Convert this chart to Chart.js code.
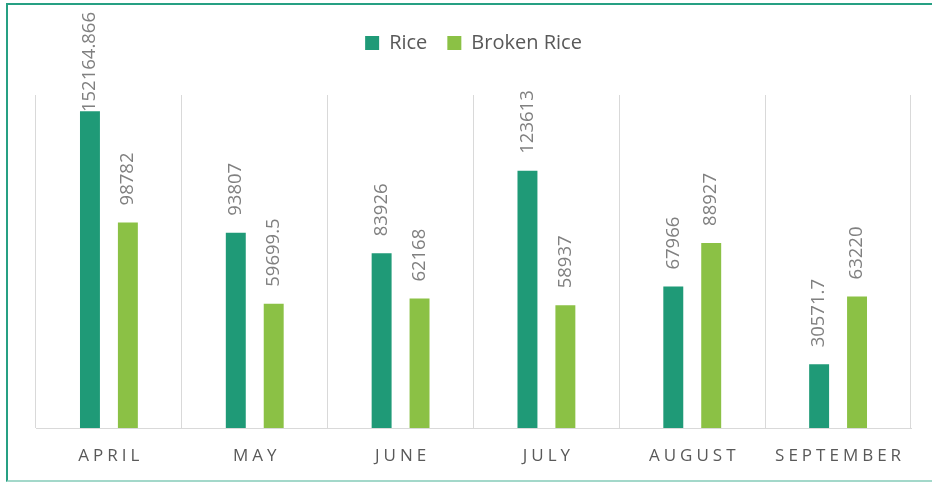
<!DOCTYPE html>
<html>
<head>
<meta charset="utf-8">
<script src="https://cdn.jsdelivr.net/npm/chart.js@4.4.1/dist/chart.umd.min.js"></script>
<style>
  html, body { margin: 0; padding: 0; background: #fff; overflow: hidden; }
  #wrap { position: relative; width: 932px; height: 484px; }
  #frame {
    position: absolute; left: 6px; top: 3px; width: 1000px; height: 479px;
    box-sizing: border-box; border: 2px solid #26a083; border-bottom-color: #a3d8ca;
    pointer-events: none;
  }
  canvas { position: absolute; left: 0; top: 0; }
</style>
</head>
<body>
<div id="wrap">
  <canvas id="chart" width="932" height="484"></canvas>
  <div id="frame"></div>
</div>
<script>
// monthly quantities
const months = ["APRIL", "MAY", "JUNE", "JULY", "AUGUST", "SEPTEMBER"];
const rice = [152164.866, 93807, 83926, 123613, 67966, 30571.7];
const brokenRice = [98782, 59699.5, 62168, 58937, 88927, 63220];

const FONT = "'Open Sans', 'DejaVu Sans', sans-serif";
const DARK_GREEN = "#1f9a77";
const LIGHT_GREEN = "#8bc145";
const GRID = "#d9d9d9";

// value labels standing upright on top of each bar (Excel style)
const barLabels = {
  id: "barLabels",
  afterDatasetsDraw(chart) {
    const ctx = chart.ctx;
    ctx.save();
    ctx.font = "18.5px " + FONT;
    ctx.fillStyle = "#808080";
    ctx.textAlign = "left";
    ctx.textBaseline = "middle";
    chart.data.datasets.forEach((ds, di) => {
      chart.getDatasetMeta(di).data.forEach((bar, i) => {
        const text = String(ds.data[i]);
        const w = ctx.measureText(text).width;
        let start = bar.y - 17;
        if (start - w < 12) start = 12 + w; // keep it inside the frame
        ctx.save();
        ctx.translate(bar.x, start);
        ctx.rotate(-Math.PI / 2);
        ctx.fillText(text, 0, 0);
        ctx.restore();
      });
    });
    ctx.restore();
  },
};

// spaced-out category names under the axis
const spacedTicks = {
  id: "spacedTicks",
  afterDraw(chart) {
    const ctx = chart.ctx;
    const x = chart.scales.x;
    const sp = 4;
    ctx.save();
    ctx.font = "17px " + FONT;
    ctx.fillStyle = "#595959";
    ctx.textAlign = "center";
    ctx.textBaseline = "middle";
    ctx.letterSpacing = sp + "px";
    months.forEach((m, i) => ctx.fillText(m, x.getPixelForTick(i) + sp / 2, 456));
    ctx.restore();
  },
};

new Chart(document.getElementById("chart"), {
  type: "bar",
  data: {
    labels: months,
    datasets: [
      { label: "Rice", data: rice, backgroundColor: DARK_GREEN, categoryPercentage: 0.52, barPercentage: 0.526 },
      { label: "Broken Rice", data: brokenRice, backgroundColor: LIGHT_GREEN, categoryPercentage: 0.52, barPercentage: 0.526 },
    ],
  },
  options: {
    responsive: false,
    animation: false,
    layout: { padding: { top: 13, left: 36, right: 21, bottom: 0 } },
    scales: {
      x: {
        grid: { display: true, offset: true, color: GRID, lineWidth: 1, drawTicks: false },
        border: { display: true, color: GRID, width: 1 },
        ticks: { display: false },
        afterFit: (s) => { s.height = 56; },
      },
      y: { display: false, min: 0, max: 160000 },
    },
    plugins: {
      legend: {
        position: "top",
        weight: 1000,
        labels: {
          boxWidth: 14, boxHeight: 14, padding: 20,
          color: "#595959", font: { size: 20, family: FONT },
        },
      },
      // empty spacer between the legend and the plot area
      title: { display: true, text: "", weight: 500, font: { size: 10, lineHeight: 1 }, padding: { top: 0, bottom: 22 } },
      tooltip: { enabled: false },
    },
  },
  plugins: [barLabels, spacedTicks],
});
</script>
</body>
</html>
